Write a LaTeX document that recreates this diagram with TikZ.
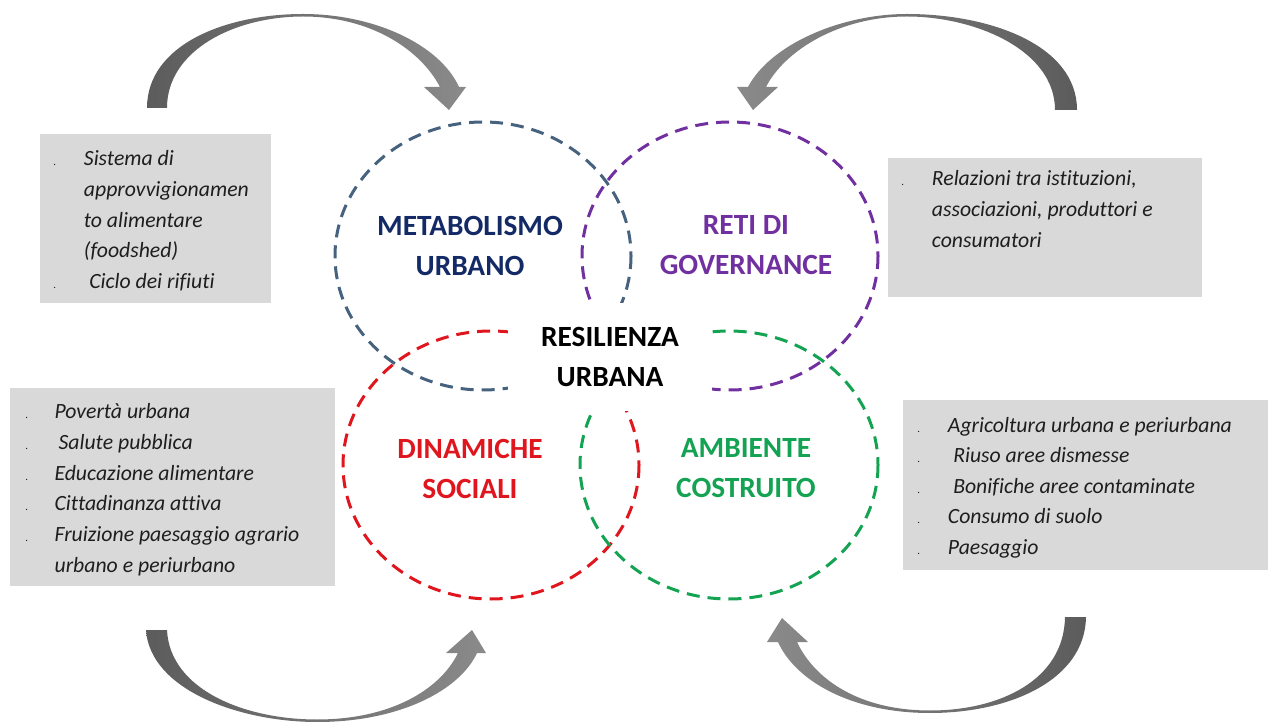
\documentclass[tikz,border=0pt]{standalone}
\usepackage{fontspec}
\setmainfont{Carlito}[Ligatures={NoCommon}]
\definecolor{boxgray}{HTML}{D9D9D9}
\definecolor{textdark}{HTML}{1E1E1E}
\definecolor{ringblue}{HTML}{46627F}
\definecolor{headblue}{HTML}{132A66}
\definecolor{ringpurple}{HTML}{7030A0}
\definecolor{ringred}{HTML}{E0161E}
\definecolor{ringgreen}{HTML}{14A352}
\definecolor{arrdark}{HTML}{5C5C5C}
\definecolor{arrlight}{HTML}{8A8A8A}
\begin{document}
\begin{tikzpicture}[x=0.75pt,y=-0.75pt,
  ring/.style={line width=2.25pt, dash pattern=on 9.75pt off 6pt},
  graybox/.style={fill=boxgray, draw=none},
  listtext/.style={inner sep=0pt, anchor=base west, text=textdark,
    font=\fontsize{16.3}{23}\selectfont\itshape},
  heading/.style={align=center, inner sep=0pt,
    font=\fontsize{22}{30}\selectfont\bfseries},
  centerbox/.style={fill=white, inner sep=0pt, minimum width=153pt, minimum height=81pt,
    align=center, font=\fontsize{22}{30}\selectfont\bfseries, text=black}
]
\path[use as bounding box] (0,0) rectangle (1271,723);

% curved arrows
\shade[left color=arrdark, right color=arrlight]
  (147,108) .. controls (147,45) and (225,14) .. (303,14)
  .. controls (375,14) and (440,45) .. (459,87) -- (466,87) -- (449,110) -- (424,87) -- (440,87)
  .. controls (420,49) and (370,16.5) .. (303,16.5)
  .. controls (235,16.5) and (167,50) .. (167,108) -- cycle;
\shade[left color=arrlight, right color=arrdark]
  (1077,110) .. controls (1077,45) and (990,14) .. (907,14)
  .. controls (840,14) and (770,45) .. (748,87) -- (737,87) -- (753,110) -- (778,87) -- (766,87)
  .. controls (785,50) and (840,16.5) .. (907,16.5)
  .. controls (975,16.5) and (1055,50) .. (1055,110) -- cycle;
\shade[left color=arrdark, right color=arrlight]
  (146,630) .. controls (150,690) and (240,722) .. (317,722)
  .. controls (400,722) and (460,690) .. (477,653) -- (486,653) -- (472,630) -- (446,653) -- (458,653)
  .. controls (440,690) and (390,719.5) .. (317,719.5)
  .. controls (245,719.5) and (170,690) .. (167,630) -- cycle;
\shade[left color=arrlight, right color=arrdark]
  (1086,617) .. controls (1085,680) and (1010,713) .. (930,713)
  .. controls (850,713) and (795,680) .. (778,642) -- (767,642) -- (782,618) -- (808,642) -- (797,642)
  .. controls (815,680) and (860,710.5) .. (930,710.5)
  .. controls (1000,710.5) and (1064,680) .. (1065,617) -- cycle;

% gray boxes
\fill[graybox] (40,134) rectangle (271,303);
\fill[graybox] (888,158) rectangle (1202,297);
\fill[graybox] (10,388) rectangle (335,586);
\fill[graybox] (903,400) rectangle (1268,570);

\node[listtext] (tltext) at (53,166) {\begin{tabular}[t]{@{}p{23pt}@{}l@{}}
{\upshape\footnotesize .} & Sistema di\\
 & approvvigionamen\\
 & to alimentare\\
 & (foodshed)\\
{\upshape\footnotesize .} & \hspace{4pt}Ciclo dei rifiuti
\end{tabular}};
\node[listtext] (trtext) at (901,186) {\begin{tabular}[t]{@{}p{23pt}@{}l@{}}
{\upshape\footnotesize .} & Relazioni tra istituzioni,\\
 & associazioni, produttori e\\
 & consumatori
\end{tabular}};
\node[listtext] (bltext) at (25,419) {\begin{tabular}[t]{@{}p{22pt}@{}l@{}}
{\upshape\footnotesize .} & Povertà urbana\\
{\upshape\footnotesize .} & \hspace{3pt}Salute pubblica\\
{\upshape\footnotesize .} & Educazione alimentare\\
{\upshape\footnotesize .} & Cittadinanza attiva\\
{\upshape\footnotesize .} & Fruizione paesaggio agrario\\
 & urbano e periurbano
\end{tabular}};
\node[listtext] (brtext) at (917,432) {\begin{tabular}[t]{@{}p{23pt}@{}l@{}}
{\upshape\footnotesize .} & Agricoltura urbana e periurbana\\
{\upshape\footnotesize .} & \hspace{4pt}Riuso aree dismesse\\
{\upshape\footnotesize .} & \hspace{4pt}Bonifiche aree contaminate\\
{\upshape\footnotesize .} & Consumo di suolo\\
{\upshape\footnotesize .} & Paesaggio
\end{tabular}};

% dashed rings
\draw[ring, draw=ringblue] (483,256) ellipse [x radius=148, y radius=134];
\draw[ring, draw=ringpurple] (730,256) ellipse [x radius=148, y radius=134];
\draw[ring, draw=ringred] (491,465) ellipse [x radius=148, y radius=134];
\draw[ring, draw=ringgreen] (729,465) ellipse [x radius=149, y radius=134];

% center
\node[centerbox] (res) at (610,357) {RESILIENZA\\URBANA};

% headings
\node[heading, text=headblue] (met) at (470,245.5) {METABOLISMO\\URBANO};
\node[heading, text=ringpurple] (gov) at (746,245.5) {RETI DI\\GOVERNANCE};
\node[heading, text=ringred] (din) at (470,468.5) {DINAMICHE\\SOCIALI};
\node[heading, text=ringgreen] (amb) at (746,468.5) {AMBIENTE\\COSTRUITO};
\end{tikzpicture}
\end{document}
